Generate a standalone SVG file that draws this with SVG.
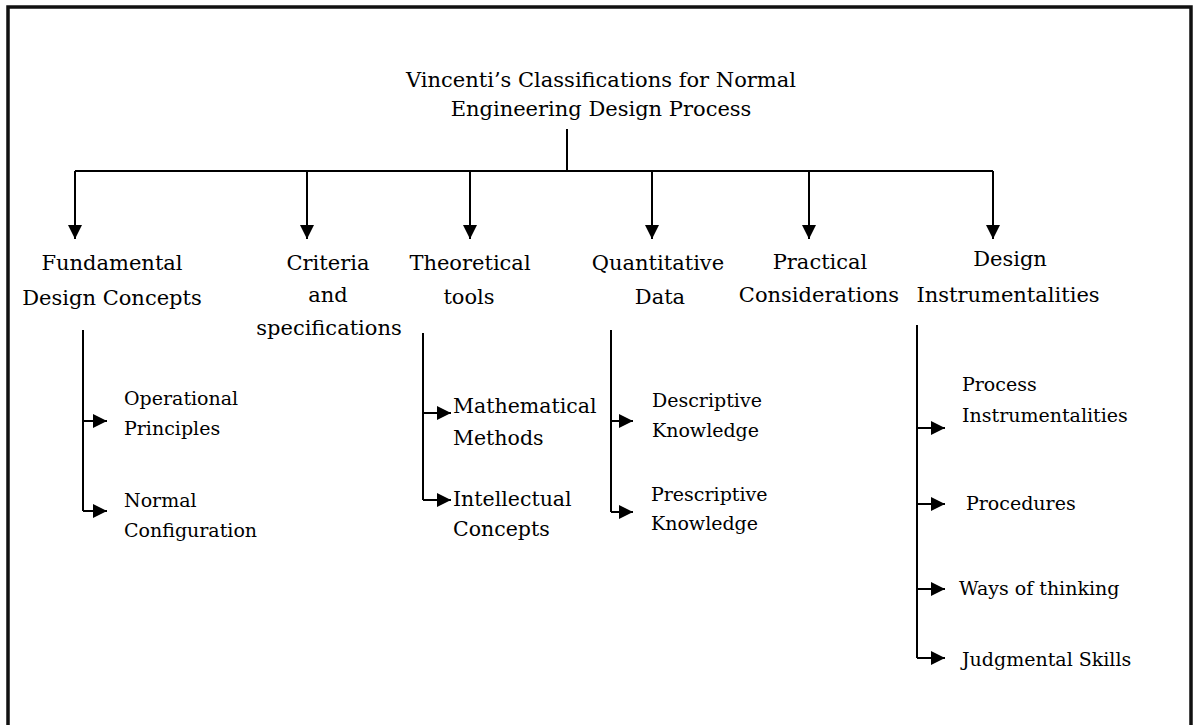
<svg xmlns="http://www.w3.org/2000/svg" width="1194" height="725" viewBox="0 0 1194 725">
<defs>
<style>
text{font-family:"DejaVu Serif","Liberation Serif",serif;fill:#000}
.t{font-size:21px;text-anchor:middle}
.m{font-size:21px;text-anchor:middle}
.s{font-size:19px}
.s2{font-size:20.5px}
.ln{stroke:#000;stroke-width:2;fill:none}
</style>
<marker id="ah" markerUnits="userSpaceOnUse" markerWidth="14" markerHeight="14" refX="14" refY="7" orient="auto" viewBox="0 0 14 14">
<path d="M0,0 L14,7 L0,14 z" fill="#000"/>
</marker>
</defs>
<rect width="1194" height="725" fill="#fff"/>
<path d="M8,730 L8,7 L1191,7 L1191,730" fill="none" stroke="#111" stroke-width="3.5"/>
<g id="title">
<text class="t" x="601" y="87">Vincenti’s Classifications for Normal</text>
<text class="t" x="601" y="116">Engineering Design Process</text>
</g>
<g id="connectors">
<path class="ln" d="M567,129 L567,171"/>
<path class="ln" d="M75,171 L993,171"/>
<path class="ln" d="M75,171 L75,239" marker-end="url(#ah)"/>
<path class="ln" d="M307,171 L307,239" marker-end="url(#ah)"/>
<path class="ln" d="M470,171 L470,239" marker-end="url(#ah)"/>
<path class="ln" d="M652,171 L652,239" marker-end="url(#ah)"/>
<path class="ln" d="M809,171 L809,239" marker-end="url(#ah)"/>
<path class="ln" d="M993,171 L993,239" marker-end="url(#ah)"/>
<path class="ln" d="M83,330 L83,511"/>
<path class="ln" d="M83,421 L107,421" marker-end="url(#ah)"/>
<path class="ln" d="M83,511 L107,511" marker-end="url(#ah)"/>
<path class="ln" d="M423,333 L423,500"/>
<path class="ln" d="M423,413 L451,413" marker-end="url(#ah)"/>
<path class="ln" d="M423,500 L451,500" marker-end="url(#ah)"/>
<path class="ln" d="M611,330 L611,512"/>
<path class="ln" d="M611,421 L633,421" marker-end="url(#ah)"/>
<path class="ln" d="M611,512 L633,512" marker-end="url(#ah)"/>
<path class="ln" d="M917,325 L917,658"/>
<path class="ln" d="M917,428 L945,428" marker-end="url(#ah)"/>
<path class="ln" d="M917,504 L945,504" marker-end="url(#ah)"/>
<path class="ln" d="M917,589 L945,589" marker-end="url(#ah)"/>
<path class="ln" d="M917,658 L945,658" marker-end="url(#ah)"/>
</g>
<g id="fundamental">
<text class="m" x="112" y="270">Fundamental</text>
<text class="m" x="112" y="305">Design Concepts</text>
</g>
<g id="criteria">
<text class="m" x="328" y="270">Criteria</text>
<text class="m" x="328" y="302">and</text>
<text class="m" x="329" y="335">specifications</text>
</g>
<g id="theoretical">
<text class="m" x="470" y="270">Theoretical</text>
<text class="m" x="469" y="304">tools</text>
</g>
<g id="quantitative">
<text class="m" x="658" y="270">Quantitative</text>
<text class="m" x="660" y="304">Data</text>
</g>
<g id="practical">
<text class="m" x="820" y="269">Practical</text>
<text class="m" x="819" y="302">Considerations</text>
</g>
<g id="design">
<text class="m" x="1010" y="266">Design</text>
<text class="m" x="1008" y="302">Instrumentalities</text>
</g>
<g id="operational">
<text class="s" x="124" y="405">Operational</text>
<text class="s" x="124" y="435">Principles</text>
</g>
<g id="normal">
<text class="s" x="124" y="507">Normal</text>
<text class="s" x="124" y="537">Configuration</text>
</g>
<g id="mathematical">
<text class="s2" x="453" y="413">Mathematical</text>
<text class="s2" x="453" y="445">Methods</text>
</g>
<g id="intellectual">
<text class="s2" x="453" y="506">Intellectual</text>
<text class="s2" x="453" y="536">Concepts</text>
</g>
<g id="descriptive">
<text class="s" x="652" y="407">Descriptive</text>
<text class="s" x="652" y="437">Knowledge</text>
</g>
<g id="prescriptive">
<text class="s" x="651" y="501">Prescriptive</text>
<text class="s" x="651" y="530">Knowledge</text>
</g>
<g id="process">
<text class="s" x="962" y="391">Process</text>
<text class="s" x="962" y="422">Instrumentalities</text>
</g>
<g id="procedures">
<text class="s" x="966" y="510">Procedures</text>
</g>
<g id="ways">
<text class="s" x="959" y="595">Ways of thinking</text>
</g>
<g id="judgmental">
<text class="s" x="962" y="666">Judgmental Skills</text>
</g>
</svg>
